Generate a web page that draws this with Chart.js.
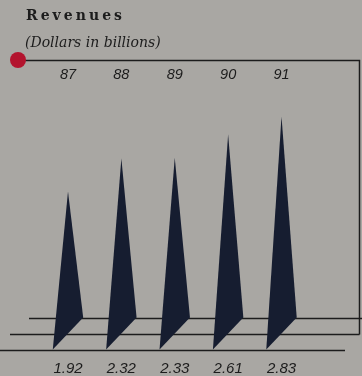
<!DOCTYPE html>
<html>
<head>
<meta charset="utf-8">
<script src="https://cdn.jsdelivr.net/npm/chart.js@4"></script>
<style>
    html, body { margin: 0; padding: 0; background: #a9a7a3; }
    #wrap { width: 362px; height: 376px; }
</style>
</head>
<body>
<div id="wrap"><canvas id="revenueChart" width="362" height="376"></canvas></div>
<script>
// Revenue by fiscal year, dollars in billions
const years = ['87', '88', '89', '90', '91'];
const revenues = [1.92, 2.32, 2.33, 2.61, 2.83];
const valueLabels = ['1.92', '2.32', '2.33', '2.61', '2.83'];

const paperColor = '#a9a7a3';
const inkColor = '#1c1c1c';
const spikeColor = '#161d30';
const depth = 32; // offset of the slanted spike base

// background, frame, baselines and text
const decorPlugin = {
    id: 'decor',
    beforeDraw: function (chart) {
        const ctx = chart.ctx;
        ctx.save();
        ctx.fillStyle = paperColor;
        ctx.fillRect(0, 0, chart.width, chart.height);

        ctx.fillStyle = inkColor;
        ctx.textBaseline = 'alphabetic';
        ctx.font = 'bold 14px "DejaVu Serif", "Liberation Serif", serif';
        // spread the title letters over a fixed width
        const plain = ctx.measureText('Revenues').width;
        ctx.letterSpacing = Math.max(0, (99 - plain) / 8) + 'px';
        ctx.fillText('Revenues', 26, 20);
        ctx.letterSpacing = '0px';
        ctx.font = 'italic 14px "DejaVu Serif", "Liberation Serif", serif';
        ctx.fillText('(Dollars in billions)', 25, 47);
        ctx.restore();
    },
    beforeDatasetsDraw: function (chart) {
        const ctx = chart.ctx;
        const base = chart.scales.y.getPixelForValue(0) + 1;
        ctx.save();
        ctx.strokeStyle = inkColor;
        ctx.lineWidth = 1.5;

        // frame from the marker across the top and down the right side
        ctx.beginPath();
        ctx.moveTo(18, 60.5);
        ctx.lineTo(359.5, 60.5);
        ctx.lineTo(359.5, base - depth / 2);
        ctx.stroke();

        // three stepped baselines
        ctx.beginPath();
        ctx.moveTo(29, base - depth);
        ctx.lineTo(362, base - depth);
        ctx.moveTo(10, base - depth / 2);
        ctx.lineTo(359.5, base - depth / 2);
        ctx.moveTo(0, base);
        ctx.lineTo(345, base);
        ctx.stroke();

        ctx.fillStyle = '#b3142e';
        ctx.beginPath();
        ctx.arc(18, 60, 8, 0, Math.PI * 2);
        ctx.fill();
        ctx.restore();
    },
    afterDatasetsDraw: function (chart) {
        const ctx = chart.ctx;
        const meta = chart.getDatasetMeta(0);
        ctx.save();
        ctx.fillStyle = spikeColor;
        meta.data.forEach(function (bar) {
            const half = bar.width / 2;
            ctx.beginPath();
            ctx.moveTo(bar.x, bar.y);
            ctx.lineTo(bar.x + half, bar.base - depth);
            ctx.lineTo(bar.x - half, bar.base);
            ctx.closePath();
            ctx.fill();
        });

        ctx.fillStyle = inkColor;
        ctx.textAlign = 'center';
        ctx.font = 'italic 14.5px "Liberation Sans"';
        years.forEach(function (year, i) {
            ctx.fillText(year, chart.scales.x.getPixelForValue(i), 79);
        });
        ctx.font = 'italic 15px "Liberation Sans"';
        valueLabels.forEach(function (label, i) {
            ctx.fillText(label, chart.scales.x.getPixelForValue(i), 373);
        });
        ctx.restore();
    }
};

const ctx = document.getElementById('revenueChart').getContext('2d');
new Chart(ctx, {
    type: 'bar',
    data: {
        labels: years,
        datasets: [{
            data: revenues,
            backgroundColor: 'rgba(0,0,0,0)',
            borderWidth: 0,
            categoryPercentage: 1,
            barPercentage: 0.57
        }]
    },
    options: {
        responsive: false,
        animation: false,
        devicePixelRatio: 1,
        layout: {
            padding: { left: 41.3, right: 53.8, top: 102.5, bottom: 26.5 }
        },
        scales: {
            x: { display: false },
            y: { display: false, min: 0, max: 3 }
        },
        plugins: {
            legend: { display: false },
            tooltip: { enabled: false }
        }
    },
    plugins: [decorPlugin]
});
</script>
</body>
</html>
